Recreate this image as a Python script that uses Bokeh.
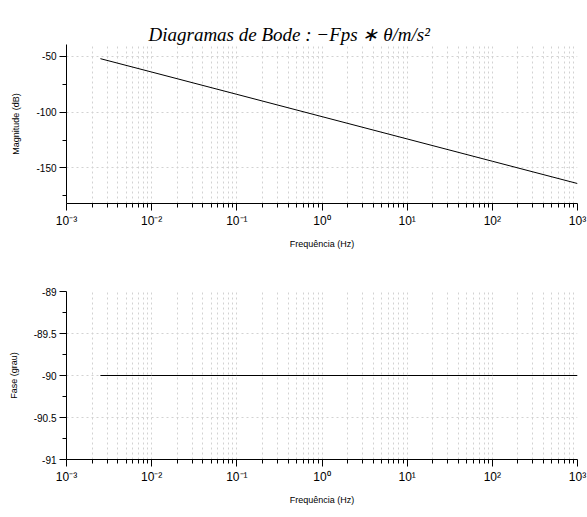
from bokeh.plotting import figure
from bokeh.layouts import column
from bokeh.models import FixedTicker, Range1d, Title
from bokeh.embed import file_html
from bokeh.resources import INLINE

# ---- data ----
freq_hz = [0.0025, 0.01, 0.1, 1.0, 10.0, 100.0, 1000.0]
magnitude_db = [-52.0, -64.0, -84.0, -104.0, -124.0, -144.0, -164.0]
phase_deg = [-90.0, -90.0, -90.0, -90.0, -90.0, -90.0, -90.0]

x_major = [1e-3, 1e-2, 1e-1, 1e0, 1e1, 1e2, 1e3]
x_labels = ["10⁻³", "10⁻²", "10⁻¹", "10⁰", "10¹", "10²", "10³"]
x_minor = [m * d for d in x_major[:-1] for m in range(2, 10)]

mag_ticks = [-150, -100, -50]
mag_labels = ["-150", "-100", "-50"]
mag_minor = [-175, -125, -75]
phase_ticks = [-91, -90.5, -90, -89.5, -89]
phase_labels = ["-91", "-90.5", "-90", "-89.5", "-89"]
phase_minor = [-90.75, -90.25, -89.75, -89.25]

title_text = "Diagramas de Bode :  \u2212Fps \u2217 \u03b8/m/s\u00b2"
xlabel = "Frequência (Hz)"

GRID = "#d2d2d2"


def style(p, ylabel, yticks, ylabels, yminor):
    p.outline_line_color = None
    p.xaxis.ticker = FixedTicker(ticks=x_major, minor_ticks=x_minor)
    p.xaxis.major_label_overrides = {v: s for v, s in zip(x_major, x_labels)}
    p.yaxis.ticker = FixedTicker(ticks=yticks, minor_ticks=yminor)
    p.yaxis.major_label_overrides = {v: s for v, s in zip(yticks, ylabels)}
    for ax in (p.xaxis, p.yaxis):
        ax.axis_line_color = "black"
        ax.major_tick_line_color = "black"
        ax.minor_tick_line_color = "black"
        ax.major_tick_out = 7
        ax.major_tick_in = 0
        ax.minor_tick_out = 4
        ax.minor_tick_in = 0
        ax.axis_label_text_font = "Liberation Sans"
        ax.axis_label_text_font_size = "9px"
        ax.axis_label_text_font_style = "normal"
        ax.axis_label_text_color = "black"
        ax.major_label_text_font = "Liberation Sans"
        ax.major_label_text_color = "black"
    p.xaxis.major_label_text_font_size = "12px"
    p.yaxis.major_label_text_font_size = "10px"
    p.xaxis.axis_label = xlabel
    p.yaxis.axis_label = ylabel
    p.xaxis.axis_label_standoff = 8
    p.yaxis.axis_label_standoff = 12
    p.xaxis.major_label_standoff = 3
    p.yaxis.major_label_standoff = 3
    p.xgrid.ticker = FixedTicker(ticks=x_major, minor_ticks=x_minor)
    p.xgrid.grid_line_color = GRID
    p.xgrid.grid_line_dash = "2 3"
    p.xgrid.minor_grid_line_color = GRID
    p.xgrid.minor_grid_line_dash = "2 3"
    p.ygrid.grid_line_color = GRID
    p.ygrid.grid_line_dash = "2 3"


p1 = figure(width=587, height=258, x_axis_type="log",
            x_range=Range1d(1e-3, 1e3), y_range=Range1d(-181.9, -39.3),
            output_backend="svg", toolbar_location=None,
            min_border_left=66, min_border_right=10,
            min_border_top=44, min_border_bottom=55,
            frame_width=511, frame_height=159, title=None)
p1.add_layout(Title(text=title_text, text_font="Liberation Serif",
                    text_font_style="italic", text_font_size="19px",
                    text_color="black", align="left", offset=82, standoff=0),
              "above")
# spacer between the title and the frame
p1.add_layout(Title(text=".", text_color="white", text_alpha=0.0,
                    text_font_size="9px", standoff=0), "above")
p1.line(freq_hz, magnitude_db, line_color="black", line_width=1)
style(p1, "Magnitude (dB)", mag_ticks, mag_labels, mag_minor)

p2 = figure(width=587, height=259, x_axis_type="log",
            x_range=Range1d(1e-3, 1e3), y_range=Range1d(-91, -89),
            output_backend="svg", toolbar_location=None,
            min_border_left=66, min_border_right=10,
            min_border_top=33, min_border_bottom=58,
            frame_width=511, frame_height=168)
p2.line(freq_hz, phase_deg, line_color="black", line_width=1)
style(p2, "Fase (grau)", phase_ticks, phase_labels, phase_minor)

layout = column(p1, p2, spacing=0)
open("out.html", "w").write(file_html(layout, INLINE))
